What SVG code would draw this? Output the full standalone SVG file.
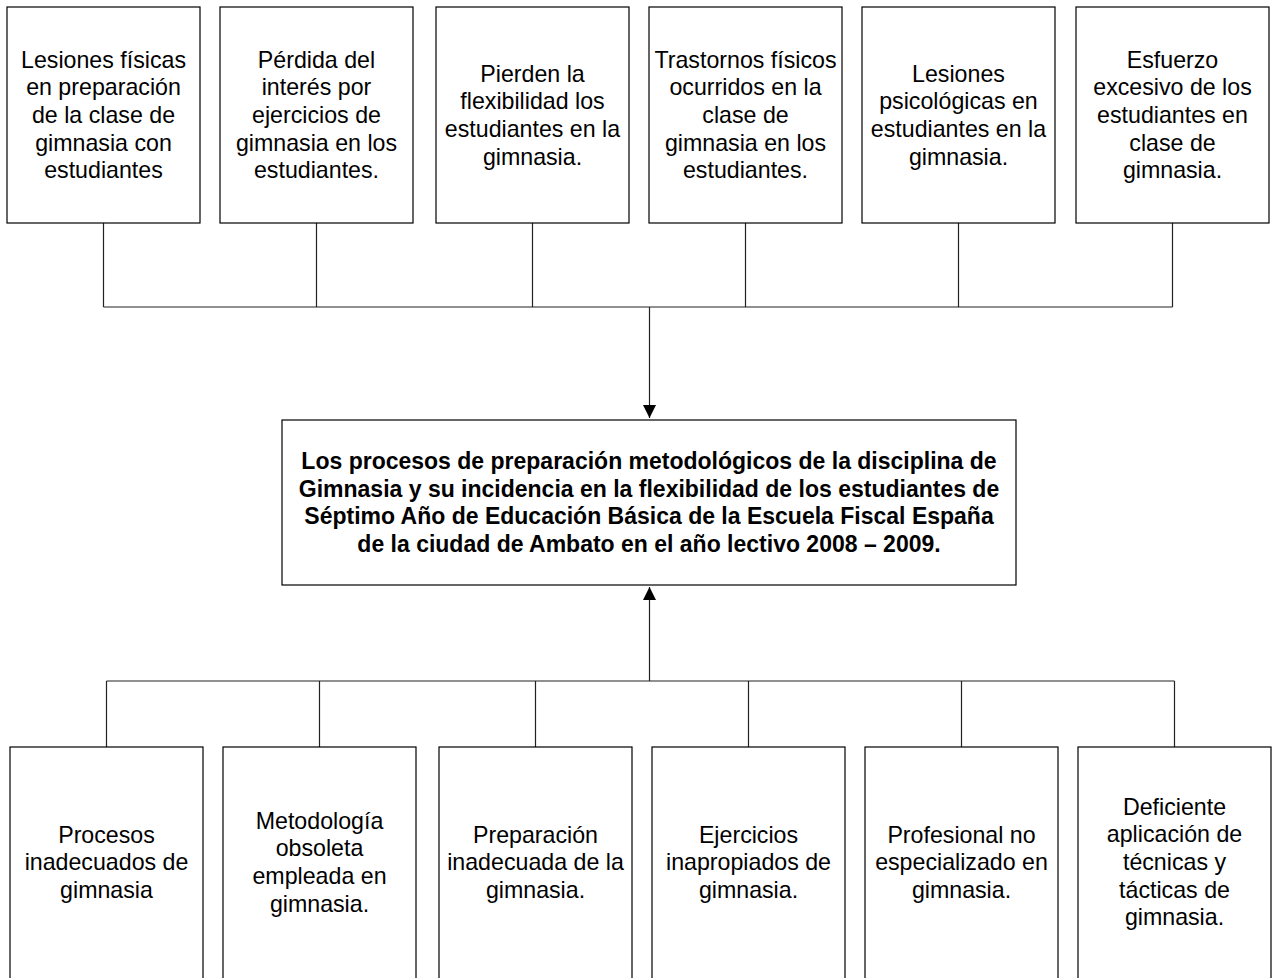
<svg xmlns="http://www.w3.org/2000/svg" width="1272" height="978" viewBox="0 0 1272 978">
<style>
.box{fill:#fff;stroke:#000;stroke-width:1.2}
.t{font-family:"Liberation Sans",Arial,sans-serif;font-size:23.2px;fill:#000;text-anchor:middle}
.tb{font-family:"Liberation Sans",Arial,sans-serif;font-size:23px;font-weight:bold;fill:#000;text-anchor:middle}
.c{fill:none;stroke:#222;stroke-width:1.2}
</style>
<defs>
<marker id="ah" markerUnits="userSpaceOnUse" markerWidth="14" markerHeight="14" viewBox="0 0 14 14" refX="13" refY="7" orient="auto">
<path d="M0,0.5 L13,7 L0,13.5 Z" fill="#000"/>
</marker>
</defs>
<rect width="1272" height="978" fill="#fff"/>
<g id="connectors">
<path class="c" d="M103.5,223 V307 M316.5,223 V307 M532.5,223 V307 M745.5,223 V307 M958.5,223 V307 M1172.5,223 V307 M103.5,307 H1172.5"/>
<path class="c" d="M649.5,307 V418" marker-end="url(#ah)"/>
<path class="c" d="M106.5,747 V681 M319.5,747 V681 M535.5,747 V681 M748.5,747 V681 M961.5,747 V681 M1174.5,747 V681 M106.5,681 H1174.5"/>
<path class="c" d="M649.5,681 V587" marker-end="url(#ah)"/>
</g>
<g id="top1"><rect class="box" x="7" y="7" width="193" height="216"/>
<text class="t"><tspan x="103.5" y="67.5">Lesiones físicas</tspan><tspan x="103.5" y="95.2">en preparación</tspan><tspan x="103.5" y="122.9">de la clase de</tspan><tspan x="103.5" y="150.6">gimnasia con</tspan><tspan x="103.5" y="178.3">estudiantes</tspan></text></g>
<g id="top2"><rect class="box" x="220" y="7" width="193" height="216"/>
<text class="t"><tspan x="316.5" y="67.5">Pérdida del</tspan><tspan x="316.5" y="95.2">interés por</tspan><tspan x="316.5" y="122.9">ejercicios de</tspan><tspan x="316.5" y="150.6">gimnasia en los</tspan><tspan x="316.5" y="178.3">estudiantes.</tspan></text></g>
<g id="top3"><rect class="box" x="436" y="7" width="193" height="216"/>
<text class="t"><tspan x="532.5" y="81.5">Pierden la</tspan><tspan x="532.5" y="109.2">flexibilidad los</tspan><tspan x="532.5" y="136.9">estudiantes en la</tspan><tspan x="532.5" y="164.6">gimnasia.</tspan></text></g>
<g id="top4"><rect class="box" x="649" y="7" width="193" height="216"/>
<text class="t"><tspan x="745.5" y="67.5">Trastornos físicos</tspan><tspan x="745.5" y="95.2">ocurridos en la</tspan><tspan x="745.5" y="122.9">clase de</tspan><tspan x="745.5" y="150.6">gimnasia en los</tspan><tspan x="745.5" y="178.3">estudiantes.</tspan></text></g>
<g id="top5"><rect class="box" x="862" y="7" width="193" height="216"/>
<text class="t"><tspan x="958.5" y="81.5">Lesiones</tspan><tspan x="958.5" y="109.2">psicológicas en</tspan><tspan x="958.5" y="136.9">estudiantes en la</tspan><tspan x="958.5" y="164.6">gimnasia.</tspan></text></g>
<g id="top6"><rect class="box" x="1076" y="7" width="193" height="216"/>
<text class="t"><tspan x="1172.5" y="67.5">Esfuerzo</tspan><tspan x="1172.5" y="95.2">excesivo de los</tspan><tspan x="1172.5" y="122.9">estudiantes en</tspan><tspan x="1172.5" y="150.6">clase de</tspan><tspan x="1172.5" y="178.3">gimnasia.</tspan></text></g>
<g id="center"><rect class="box" x="282" y="420" width="734" height="165"/>
<text class="tb"><tspan x="649" y="469">Los procesos de preparación metodológicos de la disciplina de</tspan><tspan x="649" y="496.7">Gimnasia y su incidencia en la flexibilidad de los estudiantes de</tspan><tspan x="649" y="524.4">Séptimo Año de Educación Básica de la Escuela Fiscal España</tspan><tspan x="649" y="552.1">de la ciudad de Ambato en el año lectivo 2008 – 2009.</tspan></text></g>
<g id="bot1"><rect class="box" x="10" y="747" width="193" height="240"/>
<text class="t"><tspan x="106.5" y="842.5">Procesos</tspan><tspan x="106.5" y="870.2">inadecuados de</tspan><tspan x="106.5" y="897.9">gimnasia</tspan></text></g>
<g id="bot2"><rect class="box" x="223" y="747" width="193" height="240"/>
<text class="t"><tspan x="319.5" y="828.5">Metodología</tspan><tspan x="319.5" y="856.2">obsoleta</tspan><tspan x="319.5" y="883.9">empleada en</tspan><tspan x="319.5" y="911.6">gimnasia.</tspan></text></g>
<g id="bot3"><rect class="box" x="439" y="747" width="193" height="240"/>
<text class="t"><tspan x="535.5" y="842.5">Preparación</tspan><tspan x="535.5" y="870.2">inadecuada de la</tspan><tspan x="535.5" y="897.9">gimnasia.</tspan></text></g>
<g id="bot4"><rect class="box" x="652" y="747" width="193" height="240"/>
<text class="t"><tspan x="748.5" y="842.5">Ejercicios</tspan><tspan x="748.5" y="870.2">inapropiados de</tspan><tspan x="748.5" y="897.9">gimnasia.</tspan></text></g>
<g id="bot5"><rect class="box" x="865" y="747" width="193" height="240"/>
<text class="t"><tspan x="961.5" y="842.5">Profesional no</tspan><tspan x="961.5" y="870.2">especializado en</tspan><tspan x="961.5" y="897.9">gimnasia.</tspan></text></g>
<g id="bot6"><rect class="box" x="1078" y="747" width="193" height="240"/>
<text class="t"><tspan x="1174.5" y="814.5">Deficiente</tspan><tspan x="1174.5" y="842.2">aplicación de</tspan><tspan x="1174.5" y="869.9">técnicas y</tspan><tspan x="1174.5" y="897.6">tácticas de</tspan><tspan x="1174.5" y="925.3">gimnasia.</tspan></text></g>
</svg>
